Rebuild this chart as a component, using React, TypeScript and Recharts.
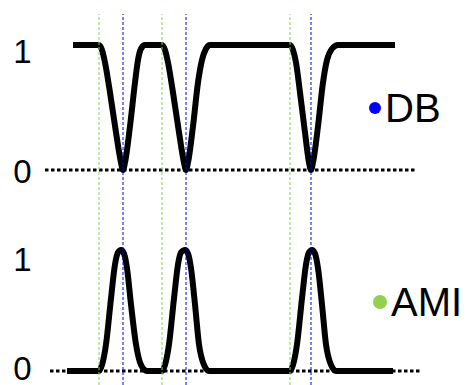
import { Legend, Line, LineChart, ReferenceLine, XAxis, YAxis } from "recharts";

// time axis is in arbitrary units, levels are 0 / 1
const dbCurve = [
  { t: 73, v: 1 }, { t: 99, v: 1 }, { t: 102, v: 0.96 }, { t: 105, v: 0.86 }, { t: 110, v: 0.62 },
  { t: 116, v: 0.3 }, { t: 121, v: 0.06 }, { t: 123, v: 0 }, { t: 125, v: 0.06 }, { t: 130, v: 0.35 },
  { t: 135, v: 0.7 }, { t: 138, v: 0.88 }, { t: 141, v: 0.97 }, { t: 145, v: 1 },
  { t: 162, v: 1 }, { t: 165, v: 0.96 }, { t: 168, v: 0.86 }, { t: 173, v: 0.62 }, { t: 179, v: 0.3 },
  { t: 184, v: 0.06 }, { t: 186, v: 0 }, { t: 188, v: 0.06 }, { t: 193, v: 0.35 }, { t: 198, v: 0.7 },
  { t: 202, v: 0.88 }, { t: 206, v: 0.97 }, { t: 210, v: 1 },
  { t: 290, v: 1 }, { t: 293, v: 0.96 }, { t: 296, v: 0.86 }, { t: 300, v: 0.62 }, { t: 305, v: 0.3 },
  { t: 309, v: 0.06 }, { t: 311, v: 0 }, { t: 313, v: 0.06 }, { t: 318, v: 0.35 }, { t: 323, v: 0.7 },
  { t: 327, v: 0.88 }, { t: 332, v: 0.97 }, { t: 338, v: 1 }, { t: 395, v: 1 },
];

const amiCurve = [
  { t: 67, v: 0 }, { t: 99, v: 0 }, { t: 102, v: 0.05 }, { t: 106, v: 0.22 }, { t: 111, v: 0.6 },
  { t: 115, v: 0.88 }, { t: 118, v: 0.98 }, { t: 121, v: 1 }, { t: 124, v: 0.97 }, { t: 127, v: 0.85 },
  { t: 131, v: 0.55 }, { t: 136, v: 0.22 }, { t: 141, v: 0.05 }, { t: 147, v: 0 },
  { t: 162, v: 0 }, { t: 165, v: 0.05 }, { t: 169, v: 0.22 }, { t: 174, v: 0.6 }, { t: 178, v: 0.88 },
  { t: 181, v: 0.98 }, { t: 185, v: 1 }, { t: 188, v: 0.97 }, { t: 191, v: 0.85 }, { t: 195, v: 0.55 },
  { t: 199, v: 0.22 }, { t: 204, v: 0.05 }, { t: 209, v: 0 },
  { t: 290, v: 0 }, { t: 293, v: 0.05 }, { t: 297, v: 0.22 }, { t: 302, v: 0.6 }, { t: 306, v: 0.88 },
  { t: 309, v: 0.98 }, { t: 312, v: 1 }, { t: 315, v: 0.97 }, { t: 318, v: 0.85 }, { t: 322, v: 0.55 },
  { t: 326, v: 0.22 }, { t: 331, v: 0.05 }, { t: 336, v: 0 }, { t: 393, v: 0 },
];

const dbBaseline = [{ t: 45, v: 0 }, { t: 417, v: 0 }];
const amiBaseline = [{ t: 50, v: 0 }, { t: 422, v: 0 }];

const amiEvents = [99, 162, 290];
const dbEvents = [123, 186, 311];

const levelTicks = [0, 1];

const GREEN = "#92d050";
const BLUE = "#0000ff";
const FONT = "'Liberation Sans', Arial, sans-serif";

function LevelTick({ y, payload, oneDy, zeroDy }: any) {
  const dy = payload.value === 1 ? oneDy : zeroDy;
  return (
    <text
      x={22.5}
      y={y + dy}
      textAnchor="middle"
      dominantBaseline="central"
      fontSize={33}
      fontFamily={FONT}
      fill="#000"
    >
      {payload.value}
    </text>
  );
}

function Key({ color, label, dotSize, gap }: { color: string; label: string; dotSize: number; gap: number }) {
  return (
    <div style={{ display: "flex", alignItems: "center", lineHeight: 1, whiteSpace: "nowrap", fontFamily: FONT }}>
      <span
        style={{
          display: "inline-block",
          width: dotSize,
          height: dotSize,
          borderRadius: "50%",
          background: color,
          marginRight: gap,
        }}
      />
      <span style={{ fontSize: 40, color: "#000" }}>{label}</span>
    </div>
  );
}

function Panel({
  curve,
  baseline,
  height,
  margin,
  domain,
  oneDy,
  zeroDy,
  legend,
}: {
  curve: { t: number; v: number }[];
  baseline: { t: number; v: number }[];
  height: number;
  margin: { top: number; right: number; bottom: number; left: number };
  domain: [number, number];
  oneDy: number;
  zeroDy: number;
  legend: { node: any; left: number; top: number };
}) {
  return (
    <LineChart width={467} height={height} margin={margin}>
      <XAxis type="number" dataKey="t" domain={[40, 467]} hide allowDataOverflow />
      <YAxis
        type="number"
        domain={domain}
        ticks={levelTicks}
        width={40}
        axisLine={false}
        tickLine={false}
        allowDataOverflow
        tick={<LevelTick oneDy={oneDy} zeroDy={zeroDy} />}
      />
      <Line
        data={baseline}
        dataKey="v"
        stroke="#000"
        strokeWidth={3}
        strokeDasharray="3.5 2.5"
        dot={false}
        isAnimationActive={false}
      />
      <Line
        data={curve}
        type="monotone"
        dataKey="v"
        stroke="#000"
        strokeWidth={6}
        strokeLinejoin="round"
        dot={false}
        isAnimationActive={false}
      />
      {amiEvents.map((t) => (
        <ReferenceLine key={`g${t}`} x={t} stroke={GREEN} strokeWidth={1} strokeDasharray="3 2" />
      ))}
      {dbEvents.map((t) => (
        <ReferenceLine key={`b${t}`} x={t} stroke={BLUE} strokeWidth={1} strokeDasharray="3 2" />
      ))}
      <Legend
        layout="horizontal"
        verticalAlign="middle"
        content={() => legend.node}
        wrapperStyle={{ left: legend.left, top: legend.top, width: "auto" }}
      />
    </LineChart>
  );
}

export default function App() {
  return (
    <div style={{ position: "absolute", left: 0, top: 0, width: 467, height: 385, background: "#fff" }}>
      <Panel
        curve={dbCurve}
        baseline={dbBaseline}
        height={210}
        margin={{ top: 14, right: 0, bottom: 0, left: 0 }}
        domain={[-0.32, 1.248]}
        oneDy={6}
        zeroDy={1}
        legend={{ node: <Key color={BLUE} label="DB" dotSize={12} gap={4} />, left: 369, top: 88 }}
      />
      <Panel
        curve={amiCurve}
        baseline={amiBaseline}
        height={175}
        margin={{ top: 0, right: 0, bottom: 0, left: 0 }}
        domain={[-0.1157, 1.3306]}
        oneDy={9}
        zeroDy={-3}
        legend={{ node: <Key color={GREEN} label="AMI" dotSize={14} gap={4} />, left: 373, top: 72 }}
      />
    </div>
  );
}
